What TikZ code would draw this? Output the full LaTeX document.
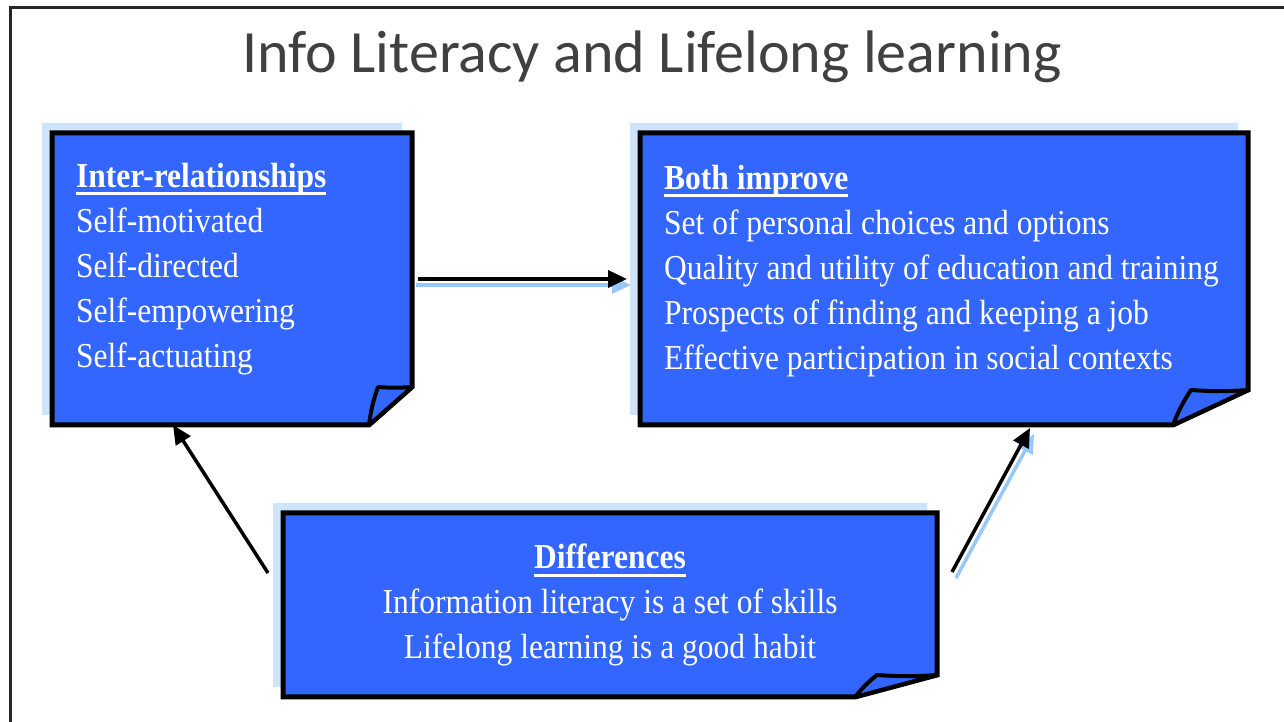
\documentclass[tikz,border=0pt]{standalone}
\usepackage{fontspec}
\setmainfont{Liberation Serif}[FakeStretch=0.9]
\newfontfamily\titlefont{Carlito}
\usetikzlibrary{arrows.meta, calc, positioning}
\definecolor{noteblue}{RGB}{51,102,255}
\definecolor{noteshade}{RGB}{205,228,250}
\definecolor{flowblue}{RGB}{150,200,250}
\definecolor{titlegray}{RGB}{64,64,64}
\newsavebox{\noteheadbox}
\newcommand{\notehead}[1]{\sbox{\noteheadbox}{\textbf{#1}}\rlap{\rule[-8pt]{\wd\noteheadbox}{3pt}}\usebox{\noteheadbox}}
\tikzset{
  note/.style = {draw=none, inner sep=0pt, outer sep=0pt},
  notebody/.style = {fill=noteblue, draw=black, line width=5pt},
  notefold/.style = {fill=noteblue, draw=black, line width=4pt, line join=round},
  notetext/.style = {text=white, inner sep=0pt, font=\fontsize{35}{45}\selectfont},
  flow/.style = {line width=3.5pt, -{Triangle[length=19pt,width=17pt]}},
  flowback/.style = {flow, draw=flowblue, fill=flowblue},
  frame/.style = {draw=black!85, line width=3pt}
}
% sticky note: node, cut width, cut height, fold inset
\newcommand{\stickynote}[4]{
  \coordinate (#1-r) at ([yshift=#3]#1.south east);
  \coordinate (#1-b) at ([xshift=-#2]#1.south east);
  \coordinate (#1-p) at ([shift={(-#2+#4,#3)}]#1.south east);
  \fill[noteshade] ([shift={(-10,10)}]#1.north west) -- ([shift={(-10,10)}]#1.north east)
    -- ([shift={(-10,10)}]#1-r) -- ([shift={(-10,10)}]#1-b) -- ([shift={(-10,10)}]#1.south west) -- cycle;
  \filldraw[notebody] (#1.north west) -- (#1.north east) -- (#1-r) -- (#1-b) -- (#1.south west) -- cycle;
  \filldraw[notefold] (#1-b) to[bend left=6] (#1-p) to[bend right=4] (#1-r) -- cycle;
}

\begin{document}
\begin{tikzpicture}[x=1pt, y=1pt]
\useasboundingbox (0,0) rectangle (1284,722);
\draw[frame] (10,0) -- (10,714) -- (1284,714);

\node[text=titlegray, font=\titlefont\fontsize{60}{72}\selectfont, anchor=base] (title) at (652,649) {Info Literacy and Lifelong learning};

% the three notes
\node[note, minimum width=360, minimum height=292] (inter) at (232,443) {};
\node[note, minimum width=608, minimum height=292] (both) at (944,443) {};
\node[note, minimum width=654, minimum height=184] (diff) at (610,117) {};

\stickynote{inter}{43}{38}{9}
\stickynote{both}{75}{35}{18}
\stickynote{diff}{82}{22}{22}

\node[notetext, align=left, anchor=north west] (inter-text) at ([shift={(24,-30)}]inter.north west)
  {\notehead{Inter-relationships}\\ Self-motivated\\ Self-directed\\ Self-empowering\\ Self-actuating};
\node[notetext, align=left, anchor=north west] (both-text) at ([shift={(24,-32)}]both.north west)
  {\notehead{Both improve}\\ Set of personal choices and options\\ Quality and utility of education and training\\
   Prospects of finding and keeping a job\\ Effective participation in social contexts};
\node[notetext, align=center, anchor=north] (diff-text) at ([yshift=-31]diff.north)
  {\notehead{Differences}\\ Information literacy is a set of skills\\ Lifelong learning is a good habit};

% arrows
\coordinate (up-l) at ($(diff.north west)+(-15,-60)$);
\coordinate (up-r) at ($(diff.north east)+(15,-59)$);
\coordinate (in-l) at ($(inter.south)+(-59,0)$);
\coordinate (in-r) at ($(both.south east)+(-218,-3)$);
\draw[flowback, transform canvas={shift={(4,-6)}}] (inter.east) -- ([xshift=-13]both.west);
\draw[flowback, transform canvas={shift={(4,-6)}}] (up-r) -- (in-r);
\draw[flow, shorten <=6pt] (inter.east) -- ([xshift=-13]both.west);
\draw[flow] (up-l) -- (in-l);
\draw[flow] (up-r) -- (in-r);
\end{tikzpicture}
\end{document}
